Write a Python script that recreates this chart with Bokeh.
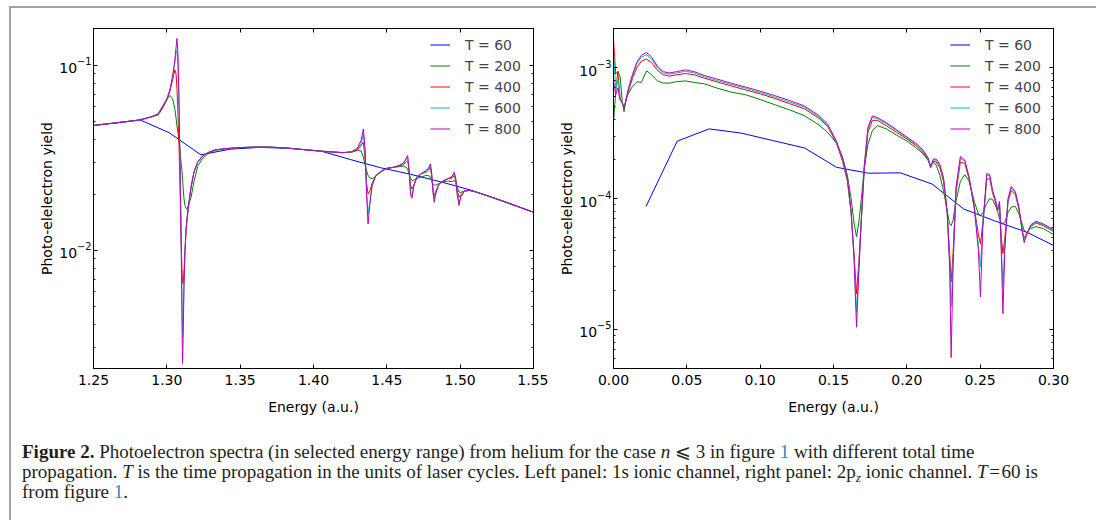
from bokeh.plotting import figure
from bokeh.models import (LinearAxis, LogAxis, FixedTicker, PrintfTickFormatter,
                          Legend, LegendItem, Range1d, Div, Spacer)
from bokeh.layouts import row, column
from bokeh.embed import file_html
from bokeh.resources import INLINE

# ---------------- data: left panel (1s ionic channel) ----------------
labels = ["T = 60", "T = 200", "T = 400", "T = 600", "T = 800"]
colors = ["#0000ff", "#008000", "#ff0000", "#00bfbf", "#bf00bf"]

left_x_ticks = [1.25, 1.30, 1.35, 1.40, 1.45, 1.50, 1.55]
left_y_major = [0.01, 0.1]
left_y_minor = [0.003, 0.004, 0.005, 0.006, 0.007, 0.008, 0.009,
                0.02, 0.03, 0.04, 0.05, 0.06, 0.07, 0.08, 0.09]

left_t60_x = [1.25, 1.2613, 1.2818, 1.3016, 1.3232, 1.3433, 1.3638, 1.3843,
              1.4048, 1.4253, 1.4458, 1.4663, 1.4868, 1.5073, 1.5278, 1.55]
left_t60_y = [0.0474, 0.0486, 0.0508, 0.0433, 0.0329, 0.0353, 0.0361, 0.0356,
              0.0345, 0.0310, 0.0280, 0.0258, 0.0235, 0.0212, 0.0186, 0.0161]

left_x = [1.25, 1.26, 1.27, 1.28, 1.285, 1.29, 1.294, 1.297, 1.300, 1.302,
          1.304, 1.3055, 1.3063, 1.3069, 1.3076, 1.3083, 1.3090, 1.3097, 1.3103, 1.3107,
          1.3111, 1.3117, 1.3124, 1.3131, 1.3138, 1.3150, 1.3165, 1.3185, 1.321, 1.324,
          1.328, 1.333, 1.34, 1.35, 1.36, 1.37, 1.38, 1.39, 1.40, 1.41,
          1.42, 1.426, 1.430, 1.4325, 1.4340, 1.4352, 1.4362, 1.4372, 1.4385, 1.4400,
          1.4425, 1.446, 1.450, 1.455, 1.459, 1.4615, 1.4632, 1.4642, 1.4652, 1.4662,
          1.4672, 1.4685, 1.4705, 1.4735, 1.4765, 1.4785, 1.4797, 1.4806, 1.4815, 1.4823,
          1.4835, 1.4855, 1.4885, 1.4915, 1.4945, 1.4960, 1.4970, 1.4980, 1.4992, 1.5005,
          1.5030, 1.5065, 1.510, 1.515, 1.52, 1.53, 1.54, 1.55]

left_t800 = [0.0474, 0.0484, 0.0494, 0.0506, 0.0516, 0.0530, 0.0548, 0.0600, 0.0660, 0.0735,
             0.088, 0.108, 0.125, 0.140, 0.115, 0.065, 0.030, 0.012, 0.0045, 0.00245,
             0.0033, 0.0065, 0.0100, 0.0130, 0.0150, 0.0180, 0.0220, 0.0265, 0.0300, 0.0322,
             0.0338, 0.0350, 0.0355, 0.0360, 0.0362, 0.0362, 0.0359, 0.0353, 0.0347, 0.0342,
             0.0338, 0.0342, 0.0358, 0.0395, 0.0454, 0.0350, 0.0200, 0.0139, 0.0180, 0.0225,
             0.0254, 0.0268, 0.0278, 0.0282, 0.0290, 0.0298, 0.0315, 0.0326, 0.0270, 0.0200,
             0.0192, 0.0225, 0.0250, 0.0260, 0.0270, 0.0280, 0.0294, 0.0260, 0.0205, 0.0182,
             0.0205, 0.0228, 0.0238, 0.0244, 0.0252, 0.0265, 0.0245, 0.0200, 0.0175, 0.0195,
             0.0210, 0.0211, 0.0208, 0.0202, 0.0196, 0.0184, 0.0172, 0.0161]

left_t600 = [0.0474, 0.0484, 0.0494, 0.0506, 0.0516, 0.0530, 0.0547, 0.0598, 0.0660, 0.0730,
             0.087, 0.104, 0.117, 0.1205, 0.100, 0.060, 0.030, 0.013, 0.0055, 0.0034,
             0.0040, 0.0065, 0.0100, 0.0130, 0.0150, 0.0180, 0.0220, 0.0265, 0.0300, 0.0322,
             0.0338, 0.0350, 0.0355, 0.0360, 0.0362, 0.0362, 0.0359, 0.0353, 0.0347, 0.0342,
             0.0338, 0.0341, 0.0355, 0.0380, 0.0427, 0.0340, 0.0210, 0.0158, 0.0185, 0.0225,
             0.0254, 0.0268, 0.0278, 0.0282, 0.0289, 0.0296, 0.0310, 0.0318, 0.0270, 0.0205,
             0.0198, 0.0225, 0.0250, 0.0260, 0.0268, 0.0277, 0.0288, 0.0258, 0.0208, 0.0190,
             0.0206, 0.0228, 0.0238, 0.0244, 0.0250, 0.0260, 0.0242, 0.0202, 0.0182, 0.0196,
             0.0210, 0.0211, 0.0208, 0.0202, 0.0196, 0.0184, 0.0172, 0.0161]

left_t400 = [0.0474, 0.0484, 0.0494, 0.0506, 0.0516, 0.0530, 0.0545, 0.0595, 0.0650, 0.0720,
             0.084, 0.0948, 0.090, 0.075, 0.055, 0.037, 0.022, 0.012, 0.0080, 0.0068,
             0.0066, 0.0078, 0.0100, 0.0128, 0.0148, 0.0178, 0.0220, 0.0265, 0.0300, 0.0322,
             0.0338, 0.0350, 0.0355, 0.0360, 0.0362, 0.0362, 0.0359, 0.0353, 0.0347, 0.0342,
             0.0338, 0.0340, 0.0350, 0.0370, 0.0385, 0.0310, 0.0230, 0.0202, 0.0210, 0.0232,
             0.0254, 0.0268, 0.0278, 0.0282, 0.0287, 0.0292, 0.0300, 0.0306, 0.0268, 0.0225,
             0.0215, 0.0225, 0.0250, 0.0260, 0.0264, 0.0272, 0.0282, 0.0250, 0.0212, 0.0198,
             0.0210, 0.0228, 0.0238, 0.0244, 0.0246, 0.0254, 0.0238, 0.0210, 0.0194, 0.0200,
             0.0210, 0.0211, 0.0208, 0.0202, 0.0196, 0.0184, 0.0172, 0.0161]

left_t200 = [0.0474, 0.0484, 0.0494, 0.0506, 0.0516, 0.0528, 0.0540, 0.0583, 0.0655, 0.0689,
             0.066, 0.058, 0.052, 0.047, 0.043, 0.039, 0.035, 0.030, 0.027, 0.0245,
             0.022, 0.019, 0.0175, 0.0169, 0.0168, 0.0178, 0.0194, 0.0235, 0.0285, 0.0312,
             0.0333, 0.0348, 0.0355, 0.0360, 0.0362, 0.0362, 0.0359, 0.0353, 0.0347, 0.0342,
             0.0338, 0.0340, 0.0348, 0.0345, 0.0320, 0.0290, 0.0270, 0.0255, 0.0246, 0.0244,
             0.0252, 0.0266, 0.0278, 0.0282, 0.0284, 0.0286, 0.0282, 0.0275, 0.0258, 0.0245,
             0.0239, 0.0240, 0.0245, 0.0250, 0.0254, 0.0254, 0.0250, 0.0238, 0.0228, 0.0225,
             0.0226, 0.0230, 0.0236, 0.0237, 0.0236, 0.0239, 0.0232, 0.0220, 0.0207, 0.0206,
             0.0210, 0.0211, 0.0208, 0.0202, 0.0196, 0.0184, 0.0172, 0.0161]

# ---------------- data: right panel (2pz ionic channel) ----------------
right_x_ticks = [0.00, 0.05, 0.10, 0.15, 0.20, 0.25, 0.30]
right_y_major = [1e-5, 1e-4, 1e-3]
right_y_minor = [6e-6, 7e-6, 8e-6, 9e-6,
                 2e-5, 3e-5, 4e-5, 5e-5, 6e-5, 7e-5, 8e-5, 9e-5,
                 2e-4, 3e-4, 4e-4, 5e-4, 6e-4, 7e-4, 8e-4, 9e-4]

right_t60_x = [0.0222, 0.0434, 0.0652, 0.0869, 0.1086, 0.1303, 0.1521, 0.1738,
               0.1955, 0.2172, 0.2389, 0.2606, 0.2823, 0.300]
right_t60_y = [8.7e-5, 2.74e-4, 3.40e-4, 3.16e-4, 2.77e-4, 2.43e-4, 1.73e-4, 1.56e-4,
               1.57e-4, 1.29e-4, 8.3e-5, 6.7e-5, 5.5e-5, 4.38e-5]

right_x = [0.0, 0.0015, 0.003, 0.0045, 0.006, 0.0072, 0.0085, 0.010, 0.013, 0.016,
           0.019, 0.0225, 0.026, 0.030, 0.034, 0.038, 0.043, 0.049, 0.055, 0.062,
           0.070, 0.080, 0.090, 0.100, 0.110, 0.120, 0.130, 0.140, 0.146, 0.152,
           0.156, 0.1595, 0.162, 0.1640, 0.1657, 0.1672, 0.1690, 0.1710, 0.1735, 0.1765,
           0.180, 0.186, 0.193, 0.200, 0.206, 0.211, 0.2145, 0.2162, 0.2180, 0.2200,
           0.2225, 0.2250, 0.2275, 0.2292, 0.2302, 0.2315, 0.2335, 0.2365, 0.2395, 0.2425,
           0.2460, 0.2488, 0.2502, 0.2518, 0.2545, 0.2565, 0.2585, 0.2605, 0.2618, 0.2632,
           0.2645, 0.2655, 0.2668, 0.2690, 0.2712, 0.2740, 0.2765, 0.2788, 0.2800, 0.2815,
           0.2845, 0.2880, 0.2930, 0.300]

right_t800 = [8.0e-4, 6.2e-4, 7.0e-4, 5.6e-4, 5.4e-4, 4.9e-4, 5.6e-4, 6.8e-4, 8.9e-4, 1.10e-3,
              1.24e-3, 1.30e-3, 1.20e-3, 1.02e-3, 9.3e-4, 9.1e-4, 9.3e-4, 9.6e-4, 9.3e-4, 8.7e-4,
              8.2e-4, 7.6e-4, 7.1e-4, 6.6e-4, 6.1e-4, 5.6e-4, 5.1e-4, 4.3e-4, 3.7e-4, 2.75e-4,
              2.05e-4, 1.42e-4, 8.0e-5, 3.5e-5, 1.04e-5, 2.6e-5, 7.0e-5, 1.80e-4, 3.5e-4, 4.27e-4,
              4.15e-4, 3.8e-4, 3.35e-4, 2.95e-4, 2.65e-4, 2.35e-4, 2.05e-4, 1.73e-4, 2.0e-4, 2.0e-4,
              1.82e-4, 1.45e-4, 8.0e-5, 3.0e-5, 6.1e-6, 3.0e-5, 1.2e-4, 2.09e-4, 1.97e-4, 1.45e-4,
              8.5e-5, 4.0e-5, 1.77e-5, 6.0e-5, 1.55e-4, 1.52e-4, 1.15e-4, 9.7e-5, 8.2e-5, 9.5e-5,
              3.6e-5, 1.32e-5, 4.0e-5, 1.0e-4, 1.24e-4, 1.13e-4, 8.5e-5, 5.5e-5, 4.6e-5, 5.2e-5,
              6.3e-5, 6.7e-5, 6.4e-5, 5.8e-5]

right_t600 = [1.27e-3, 7.0e-4, 8.0e-4, 5.8e-4, 5.4e-4, 4.9e-4, 5.6e-4, 6.7e-4, 8.7e-4, 1.07e-3,
              1.20e-3, 1.25e-3, 1.16e-3, 9.9e-4, 9.1e-4, 8.9e-4, 9.1e-4, 9.35e-4, 9.1e-4, 8.5e-4,
              8.0e-4, 7.45e-4, 6.95e-4, 6.45e-4, 5.95e-4, 5.45e-4, 5.0e-4, 4.2e-4, 3.62e-4, 2.7e-4,
              2.0e-4, 1.4e-4, 7.9e-5, 3.5e-5, 1.35e-5, 2.8e-5, 7.0e-5, 1.75e-4, 3.4e-4, 4.15e-4,
              4.07e-4, 3.72e-4, 3.3e-4, 2.9e-4, 2.6e-4, 2.3e-4, 2.02e-4, 1.73e-4, 1.97e-4, 1.96e-4,
              1.78e-4, 1.42e-4, 7.9e-5, 3.2e-5, 1.5e-5, 3.2e-5, 1.17e-4, 2.02e-4, 1.93e-4, 1.43e-4,
              8.5e-5, 4.4e-5, 3.0e-5, 6.2e-5, 1.5e-4, 1.49e-4, 1.13e-4, 9.6e-5, 8.1e-5, 9.3e-5,
              4.0e-5, 2.1e-5, 4.4e-5, 9.8e-5, 1.2e-4, 1.1e-4, 8.4e-5, 5.5e-5, 4.8e-5, 5.3e-5,
              6.2e-5, 6.6e-5, 6.3e-5, 5.7e-5]

right_t400 = [1.65e-3, 9.0e-4, 9.2e-4, 5.9e-4, 5.3e-4, 5.0e-4, 5.5e-4, 6.5e-4, 8.3e-4, 1.0e-3,
              1.12e-3, 1.16e-3, 1.09e-3, 9.5e-4, 8.8e-4, 8.6e-4, 8.8e-4, 9.0e-4, 8.8e-4, 8.3e-4,
              7.8e-4, 7.25e-4, 6.75e-4, 6.3e-4, 5.8e-4, 5.3e-4, 4.85e-4, 4.1e-4, 3.55e-4, 2.65e-4,
              1.95e-4, 1.35e-4, 7.8e-5, 3.8e-5, 1.87e-5, 3.2e-5, 7.0e-5, 1.65e-4, 3.2e-4, 3.95e-4,
              3.95e-4, 3.6e-4, 3.2e-4, 2.85e-4, 2.55e-4, 2.25e-4, 1.98e-4, 1.73e-4, 1.92e-4, 1.9e-4,
              1.72e-4, 1.35e-4, 7.8e-5, 3.8e-5, 2.3e-5, 3.8e-5, 1.1e-4, 1.9e-4, 1.85e-4, 1.4e-4,
              8.5e-5, 5.3e-5, 4.5e-5, 6.5e-5, 1.4e-4, 1.42e-4, 1.1e-4, 9.3e-5, 8.0e-5, 9.0e-5,
              5.0e-5, 3.8e-5, 5.0e-5, 9.5e-5, 1.15e-4, 1.07e-4, 8.2e-5, 5.6e-5, 5.0e-5, 5.4e-5,
              6.1e-5, 6.5e-5, 6.2e-5, 5.6e-5]

right_t200 = [3.8e-4, 6.5e-4, 9.4e-4, 8.5e-4, 5.5e-4, 4.6e-4, 5.8e-4, 6.3e-4, 7.2e-4, 7.8e-4,
              7.7e-4, 9.45e-4, 8.8e-4, 7.9e-4, 7.6e-4, 7.6e-4, 7.8e-4, 7.9e-4, 7.7e-4, 7.5e-4,
              7.0e-4, 6.5e-4, 6.2e-4, 5.7e-4, 5.2e-4, 4.75e-4, 4.3e-4, 3.65e-4, 3.2e-4, 2.65e-4,
              2.1e-4, 1.5e-4, 1.0e-4, 6.5e-5, 5.1e-5, 6.5e-5, 1.0e-4, 1.7e-4, 2.6e-4, 3.3e-4,
              3.6e-4, 3.4e-4, 3.05e-4, 2.75e-4, 2.45e-4, 2.2e-4, 1.95e-4, 1.8e-4, 1.9e-4, 1.8e-4,
              1.5e-4, 1.15e-4, 8.0e-5, 6.4e-5, 6.2e-5, 6.8e-5, 9.5e-5, 1.35e-4, 1.52e-4, 1.35e-4,
              9.5e-5, 7.6e-5, 7.4e-5, 7.8e-5, 9.2e-5, 1.0e-4, 9.8e-5, 8.8e-5, 8.0e-5, 7.0e-5,
              6.5e-5, 6.4e-5, 6.6e-5, 7.8e-5, 8.6e-5, 8.7e-5, 7.6e-5, 6.3e-5, 5.7e-5, 5.5e-5,
              5.9e-5, 6.1e-5, 5.9e-5, 5.3e-5]

for nm, xs, ys in [("left", left_x, left_t800), ("left", left_x, left_t600), ("left", left_x, left_t400),
                   ("left", left_x, left_t200), ("right", right_x, right_t800), ("right", right_x, right_t600),
                   ("right", right_x, right_t400), ("right", right_x, right_t200)]:
    if len(xs) != len(ys):
        raise ValueError(f"{nm}: {len(xs)} x vs {len(ys)} y")

FONT = "DejaVu Sans"


def style_axis(ax, minor=True):
    ax.axis_line_color = "black"
    ax.major_tick_line_color = "black"
    ax.minor_tick_line_color = "black" if minor else None
    ax.major_tick_in = 4
    ax.major_tick_out = 0
    ax.minor_tick_in = 2
    ax.minor_tick_out = 0
    ax.major_label_text_font = FONT
    ax.major_label_text_color = "black"
    ax.major_label_text_font_size = "14px"
    ax.major_label_standoff = 4
    ax.axis_label_text_font = FONT
    ax.axis_label_text_font_size = "14px"
    ax.axis_label_text_font_style = "normal"
    ax.axis_label_text_color = "black"
    ax.axis_label_standoff = 8


def make_panel(width, xr, yr, xticks, ymaj, ymin, mbl, mbr, bx, by, xs, series):
    p = figure(width=width, height=412, x_range=Range1d(*xr), y_range=Range1d(*yr),
               y_axis_type="log", output_backend="svg", toolbar_location=None,
               min_border_left=mbl, min_border_right=mbr, min_border_top=20, min_border_bottom=52,
               margin=0)
    p.xgrid.visible = False
    p.ygrid.visible = False
    p.outline_line_color = "black"
    p.background_fill_color = "white"
    p.border_fill_color = "white"

    xb = p.xaxis[0]
    xb.ticker = FixedTicker(ticks=xticks)
    xb.formatter = PrintfTickFormatter(format="%.2f")
    xb.axis_label = "Energy (a.u.)"
    style_axis(xb, minor=False)
    xb.major_label_standoff = 6
    xb.axis_label_standoff = 11

    yl = p.yaxis[0]
    yl.ticker = FixedTicker(ticks=ymaj, minor_ticks=ymin)
    yl.axis_label = "Photo-elelectron yield"
    style_axis(yl)
    yl.major_label_standoff = 2
    yl.axis_label_standoff = 1

    # tick-only axes on the top and right sides (labels hidden)
    xt = LinearAxis(ticker=FixedTicker(ticks=xticks))
    style_axis(xt, minor=False)
    xt.major_label_text_color = None
    xt.major_label_text_font_size = "2px"
    xt.major_label_standoff = 0
    p.add_layout(xt, "above")
    yr_ax = LogAxis(ticker=FixedTicker(ticks=ymaj, minor_ticks=ymin))
    style_axis(yr_ax)
    yr_ax.major_label_text_color = None
    yr_ax.major_label_text_font_size = "2px"
    yr_ax.major_label_standoff = 0
    p.add_layout(yr_ax, "right")

    rends = [p.line(bx, by, line_color=colors[0], line_width=1)]
    for ys, c in zip(series, colors[1:]):
        rends.append(p.line(xs, ys, line_color=c, line_width=1))

    leg = Legend(items=[LegendItem(label=l, renderers=[r]) for l, r in zip(labels, rends)],
                 location="top_right", margin=0, padding=6, spacing=0,
                 glyph_width=20, glyph_height=21, label_height=21, label_width=62,
                 label_standoff=15, background_fill_alpha=0, border_line_alpha=0,
                 label_text_font=FONT, label_text_font_size="14px")
    p.add_layout(leg)
    return p


p1 = make_panel(537, (1.25, 1.55), (10 ** -2.638, 10 ** -0.8), left_x_ticks,
                left_y_major, left_y_minor, 82, 15, left_t60_x, left_t60_y, left_x,
                [left_t200, left_t400, left_t600, left_t800])
p2 = make_panel(548, (0.0, 0.30), (10 ** -5.298, 10 ** -2.702), right_x_ticks,
                right_y_major, right_y_minor, 65, 43, right_t60_x, right_t60_y, right_x,
                [right_t200, right_t400, right_t600, right_t800])

LINK = "#2a8bc0"
SUB = 'font-size:70%;position:relative;top:0.3em;line-height:0'
caption_html = (
    '<div style="line-height:20px;white-space:nowrap">'
    '<b>Figure 2.</b> Photoelectron spectra (in selected energy range) from helium for the case '
    '<i>n</i>&nbsp;&#10877;&nbsp;3 in figure <span style="color:%s">1</span> with different total time<br>'
    'propagation. <i>T</i> is the time propagation in the units of laser cycles. Left panel: 1s ionic '
    'channel, right panel: 2p<span style="%s"><i>z</i></span> ionic channel. '
    '<i>T</i>&#8202;=&#8202;60 is<br>'
    'from figure <span style="color:%s">1</span>.</div>'
) % (LINK, SUB, LINK)

cap = Div(text=caption_html, width=1085, height=100, margin=0,
          styles={"font-family": "'Liberation Serif', serif", "font-size": "19px",
                  "line-height": "20px", "padding-left": "11px", "padding-top": "22px",
                  "white-space": "nowrap", "color": "#231f20", "box-sizing": "border-box"})

GRAY = "#a3a3a3"
vline = Spacer(width=2, height=514, margin=0, styles={"background-color": GRAY})
hline = Spacer(width=1085, height=2, margin=0, styles={"background-color": GRAY})

root = row(vline, column(hline, row(p1, p2, margin=0, spacing=0), cap, margin=0, spacing=0),
           spacing=0, styles={"margin-left": "9px", "margin-top": "6px"})

open("out.html", "w").write(file_html(root, INLINE))
